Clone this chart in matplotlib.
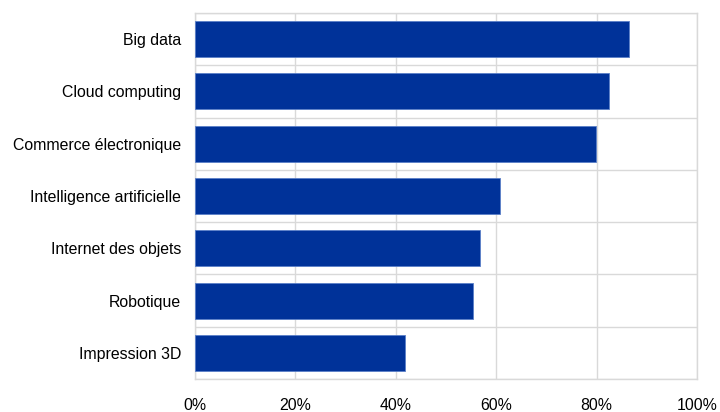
import matplotlib
matplotlib.use("Agg")
import matplotlib.pyplot as plt
import numpy as np
from matplotlib.ticker import FuncFormatter, FixedLocator

categories = ["Big data", "Cloud computing", "Commerce électronique",
              "Intelligence artificielle", "Internet des objets",
              "Robotique", "Impression 3D"]
values = [86.5, 82.4, 79.9, 60.8, 56.8, 55.4, 41.9]
xticks = [0, 20, 40, 60, 80, 100]

plt.rcParams['font.family'] = ['Liberation Sans', 'DejaVu Sans']

fig = plt.figure(figsize=(7.2, 4.12), dpi=100)
ax = fig.add_axes([195/720, 33/412, 502/720, 366/412])

y = np.arange(len(categories))
ax.barh(y, values, height=0.69, color="#003299", edgecolor="#5a7fc8",
        linewidth=0.6, zorder=3)

ax.set_xlim(0, 100)
ax.set_ylim(len(categories) - 0.5, -0.5)
ax.set_xticks(xticks)
ax.xaxis.set_major_formatter(FuncFormatter(lambda v, p: f"{v:.0f}%"))
ax.set_yticks(y)
ax.set_yticklabels(categories)
ax.yaxis.set_minor_locator(FixedLocator(np.arange(-0.5, len(categories), 1.0)))

ax.grid(True, axis="x", which="major", color="#d9d9d9", linewidth=1.0, zorder=0)
ax.grid(True, axis="y", which="minor", color="#d9d9d9", linewidth=1.0, zorder=0)
ax.grid(False, axis="y", which="major")

ax.tick_params(axis="both", which="both", length=0, labelsize=11.4, colors="black")
ax.tick_params(axis="y", pad=10)
ax.tick_params(axis="x", pad=14)
for s in ax.spines.values():
    s.set_color("#d9d9d9")
    s.set_linewidth(1.0)

fig.savefig("out.png", dpi=100, facecolor="white")
